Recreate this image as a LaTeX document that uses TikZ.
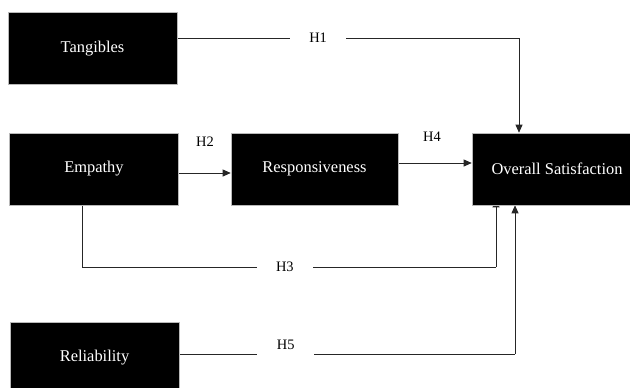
\documentclass[tikz,border=0pt]{standalone}
\usepackage{fontspec}
\setmainfont{Liberation Serif}
\newfontfamily\tnr{Liberation Serif}
\usetikzlibrary{arrows.meta,backgrounds,calc}
\begin{document}
\begin{tikzpicture}[x=1bp,y=-1bp,
  box/.style={draw=gray!55, line width=0.6bp, fill=black, text=white,
    minimum width=169bp, minimum height=72bp, inner sep=0pt,
    font=\tnr\fontsize{16.5}{18}\selectfont},
  lab/.style={font=\tnr\fontsize{14.5}{16}\selectfont, text=black, inner sep=1bp},
  gaplab/.style={lab, fill=white, inner xsep=19.5bp, inner ysep=2bp},
  conn/.style={draw=black!85, line width=0.8bp},
  tip/.style={-{Triangle[length=8bp,width=7bp]}}]
\useasboundingbox (0,0) rectangle (630,387);
\node[box] (T) at (92.5,48.5) {Tangibles};
\node[box] (E) at (94,169) {Empathy};
\node[box, minimum width=167bp] (R) at (314.5,169) {Responsiveness};
\node[box, minimum width=170bp] (O) at (557,169) {Overall Satisfaction};
\node[box] (L) at (94.5,358) {Reliability};
\coordinate (c1) at (519,38);
\coordinate (c3a) at (82,267);
\coordinate (c3b) at (496,267);
\coordinate (c5) at (515,354);
\node[lab] (h2) at (205,142) {H2};
\node[lab] (h4) at (432,136.5) {H4};
\begin{scope}[on background layer]
\draw[conn] (T.east |- c1) -- node[gaplab, pos=0.412] (h1) {H1} (c1);
\draw[conn, tip] (c1) -- (c1 |- O.north);
\draw[conn, tip] ([yshift=-4bp]E.east) -- ([yshift=-4bp]R.west);
\draw[conn, tip] ([yshift=6bp]R.east) -- ([yshift=6bp]O.west);
\draw[conn] (E.south -| c3a) -- (c3a) -- node[gaplab, pos=0.49] (h3) {H3} (c3b);
\draw[conn, tip] (c3b) -- ($(c3b |- O.south)+(0,-6)$);
\draw[conn] (L.east |- c5) -- node[gaplab, pos=0.317, inner ysep=11bp, yshift=9bp] (h5) {H5} (c5);
\draw[conn, tip] (c5) -- (c5 |- O.south);
\end{scope}
\end{tikzpicture}
\end{document}
